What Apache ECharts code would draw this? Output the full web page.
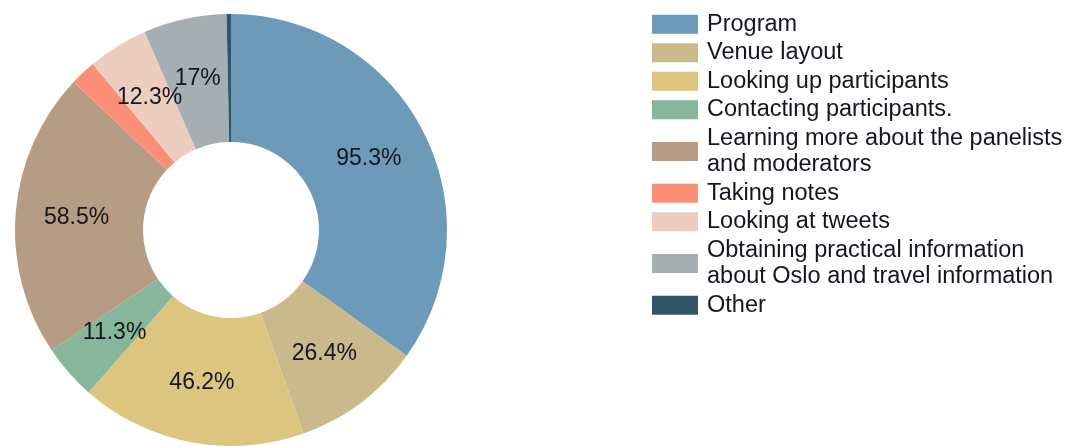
<!DOCTYPE html>
<html>
<head>
<meta charset="utf-8">
<script src="https://cdn.jsdelivr.net/npm/echarts@6/dist/echarts.min.js"></script>
<style>
  html, body { margin: 0; padding: 0; background: #fff; }
  #chart { width: 1080px; height: 446px; }
</style>
</head>
<body>
<div id="chart"></div>
<script>
var categories = [
    'Program',
    'Venue layout',
    'Looking up participants',
    'Contacting participants.',
    'Learning more about the panelists and moderators',
    'Taking notes',
    'Looking at tweets',
    'Obtaining practical information about Oslo and travel information',
    'Other'
];
var values = [95.3, 26.4, 46.2, 11.3, 58.5, 5.3, 12.3, 17, 0.9];
var colors = ['#6d9ab9', '#c9b98b', '#dcc57f', '#86b79a', '#b69c84', '#fd8e76', '#eecdc1', '#a5aeb0', '#30566a'];

// legend line breaks as in the original
var legendWrap = {
    'Learning more about the panelists and moderators': 'Learning more about the panelists\nand moderators',
    'Obtaining practical information about Oslo and travel information': 'Obtaining practical information\nabout Oslo and travel information'
};

var chart = echarts.init(document.getElementById('chart'));

var option = {
    animation: false,
    color: colors,
    textStyle: { fontFamily: 'Liberation Sans, Arial, sans-serif' },
    legend: {
        orient: 'vertical',
        left: 652,
        top: 11,
        padding: 0,
        itemWidth: 46,
        itemHeight: 19,
        itemGap: 2,
        icon: 'rect',
        data: categories,
        formatter: function (name) {
            return legendWrap[name] || name;
        },
        textStyle: {
            fontSize: 23.5,
            lineHeight: 26.5,
            color: '#15151f',
            padding: [0, 0, 0, 4]
        }
    },
    series: [{
        type: 'pie',
        center: [231, 230],
        radius: [88, 216],
        startAngle: 90,
        clockwise: true,
        avoidLabelOverlap: false,
        labelLayout: { hideOverlap: false },
        label: {
            show: true,
            position: 'inside',
            fontSize: 23,
            color: '#15151f',
            formatter: function (p) {
                return p.value < 3 || p.dataIndex === 5 ? '' : p.value + '%';
            }
        },
        labelLine: { show: false },
        emphasis: { disabled: true },
        data: categories.map(function (c, i) {
            return { name: c, value: values[i] };
        })
    }]
};

chart.setOption(option);
</script>
</body>
</html>
